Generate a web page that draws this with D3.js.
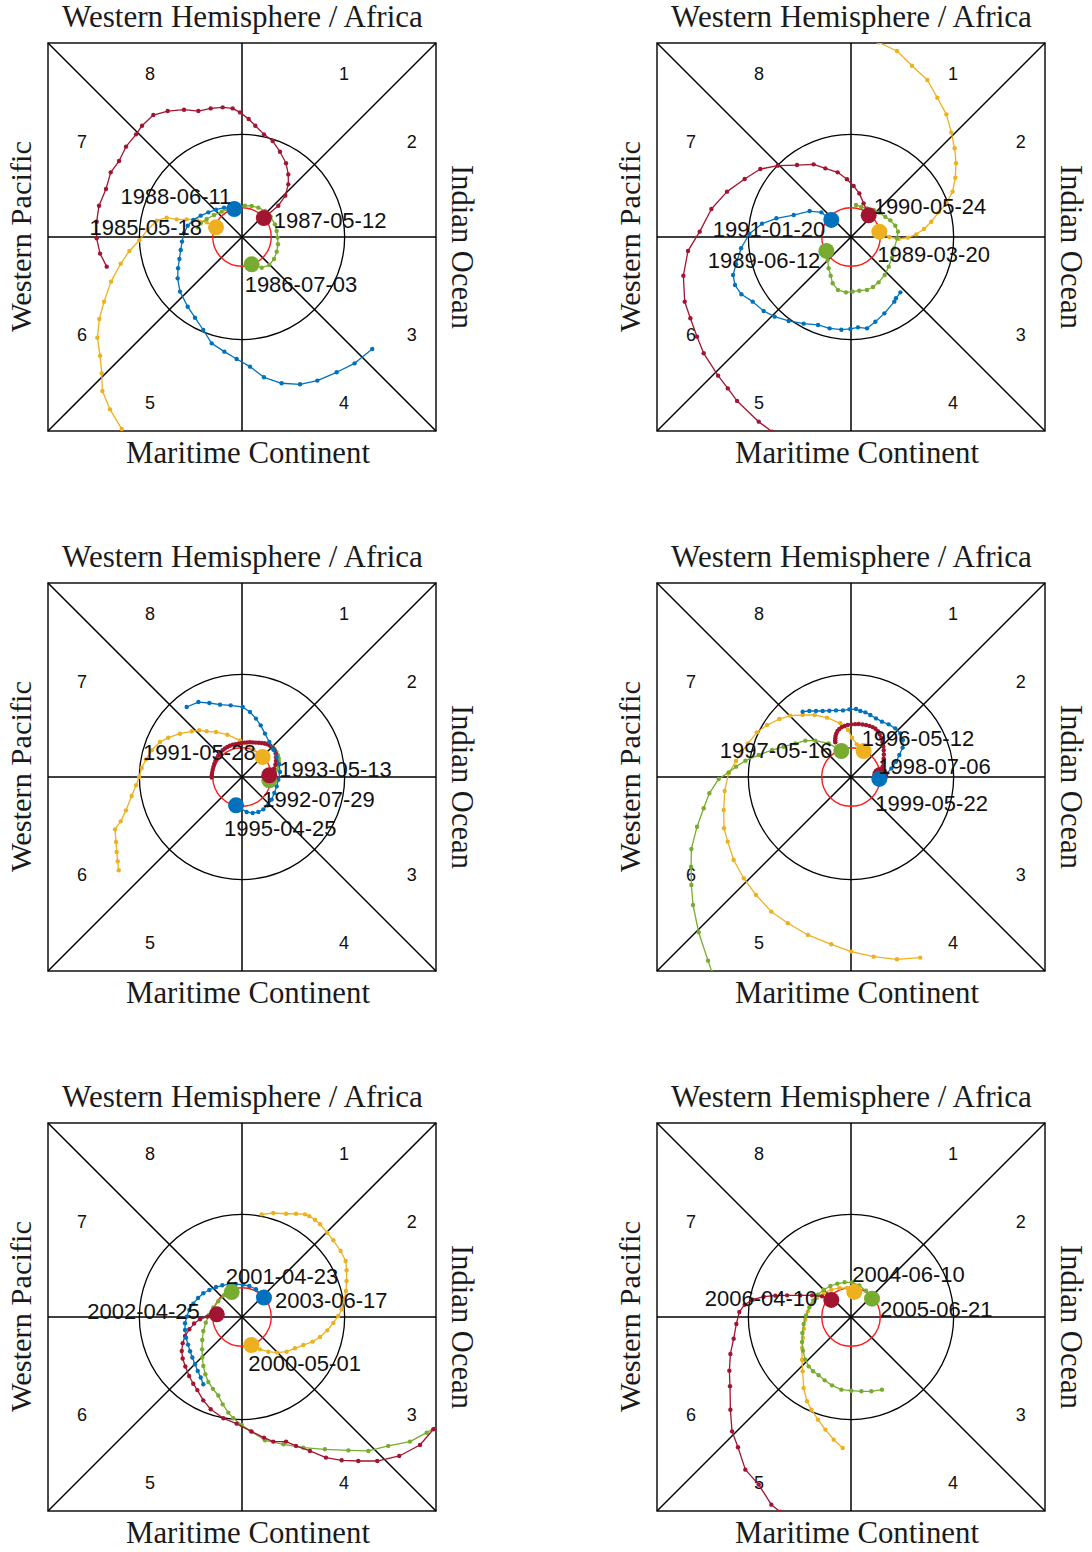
<!DOCTYPE html>
<html>
<head>
<meta charset="utf-8">
<script src="https://cdn.jsdelivr.net/npm/d3@7"></script>
<style>
  body { margin: 0; background: #fff; }
  svg { display: block; }
</style>
</head>
<body>
<svg id="chart" width="1092" height="1552"></svg>
<script>
// ---- MJO phase-space trajectories (RMM plane, rotated so WH/Africa is on top) ----

const regionNames = { top: "Western Hemisphere / Africa", bottom: "Maritime Continent",
                      left: "Western Pacific", right: "Indian Ocean" };
const phaseNumbers = ["1", "2", "3", "4", "5", "6", "7", "8"];
const seriesColors = ["#EDB120", "#77AC30", "#A2142F", "#0072BD"];

// Panel 1
const p1Dates = ["1985-05-18", "1986-07-03", "1987-05-12", "1988-06-11"];
const p1Yellow = [[-0.253,0.094],[-0.344,0.143],[-0.442,0.172],[-0.539,0.172],[-0.636,0.172],[-0.734,0.188],[-0.830,0.160],[-0.920,0.070],[-1.000,-0.032],[-1.097,-0.136],[-1.182,-0.260],[-1.276,-0.435],[-1.344,-0.630],[-1.390,-0.799],[-1.409,-0.981],[-1.383,-1.156],[-1.367,-1.328],[-1.360,-1.500],[-1.286,-1.679],[-1.172,-1.870]];
const p1Green = [[0.094,-0.266],[0.192,-0.299],[0.266,-0.273],[0.312,-0.214],[0.338,-0.143],[0.351,-0.071],[0.347,-0.006],[0.338,0.058],[0.321,0.123],[0.279,0.198],[0.224,0.253],[0.159,0.286],[0.094,0.302],[0.029,0.305],[-0.040,0.290],[-0.117,0.273],[-0.198,0.247],[-0.273,0.214],[-0.344,0.175],[-0.402,0.133],[-0.432,0.094]];
const p1Red = [[0.213,0.185],[0.354,0.305],[0.422,0.403],[0.451,0.513],[0.451,0.610],[0.429,0.718],[0.370,0.831],[0.299,0.935],[0.214,1.000],[0.130,1.084],[0.065,1.149],[-0.019,1.214],[-0.091,1.253],[-0.188,1.263],[-0.305,1.253],[-0.425,1.227],[-0.565,1.240],[-0.724,1.227],[-0.864,1.188],[-0.974,1.084],[-1.032,1.000],[-1.130,0.880],[-1.198,0.740],[-1.279,0.630],[-1.325,0.468],[-1.393,0.305],[-1.416,0.149],[-1.416,-0.013],[-1.383,-0.162],[-1.318,-0.289]];
const p1Blue = [[-0.075,0.273],[-0.175,0.286],[-0.253,0.266],[-0.328,0.240],[-0.402,0.208],[-0.474,0.166],[-0.529,0.110],[-0.565,0.036],[-0.584,-0.045],[-0.597,-0.127],[-0.610,-0.214],[-0.623,-0.305],[-0.627,-0.403],[-0.604,-0.532],[-0.529,-0.679],[-0.458,-0.786],[-0.377,-0.906],[-0.295,-1.036],[-0.172,-1.117],[-0.052,-1.188],[0.078,-1.263],[0.214,-1.367],[0.386,-1.425],[0.565,-1.435],[0.734,-1.399],[0.922,-1.318],[1.097,-1.231],[1.269,-1.091]];

// Panel 2
const p2Dates = ["1989-03-20", "1989-06-12", "1990-05-24", "1991-01-20"];
const p2Yellow = [[0.276,0.052],[0.373,0.000],[0.464,-0.019],[0.555,-0.006],[0.636,0.026],[0.711,0.078],[0.782,0.149],[0.854,0.240],[0.929,0.328],[0.990,0.442],[1.016,0.578],[1.023,0.718],[1.010,0.864],[0.977,1.019],[0.929,1.195],[0.841,1.357],[0.744,1.529],[0.594,1.669],[0.448,1.812],[0.269,1.896]];
const p2Green = [[-0.240,-0.136],[-0.227,-0.224],[-0.218,-0.305],[-0.198,-0.377],[-0.179,-0.451],[-0.127,-0.516],[-0.049,-0.539],[0.016,-0.532],[0.081,-0.523],[0.156,-0.516],[0.214,-0.487],[0.269,-0.442],[0.328,-0.370],[0.367,-0.289],[0.399,-0.201],[0.422,-0.110],[0.448,-0.013],[0.458,0.052],[0.432,0.110],[0.383,0.162],[0.334,0.198],[0.279,0.237],[0.221,0.263],[0.156,0.279],[0.101,0.292],[0.049,0.312]];
const p2Red = [[0.172,0.211],[0.123,0.328],[0.081,0.425],[0.026,0.497],[-0.039,0.562],[-0.130,0.630],[-0.250,0.669],[-0.364,0.708],[-0.526,0.701],[-0.714,0.695],[-0.883,0.662],[-1.036,0.565],[-1.208,0.442],[-1.360,0.273],[-1.474,0.052],[-1.588,-0.136],[-1.633,-0.377],[-1.620,-0.630],[-1.565,-0.792],[-1.500,-0.971],[-1.435,-1.133],[-1.295,-1.351],[-1.200,-1.475],[-1.110,-1.597],[-0.899,-1.799],[-0.769,-1.896]];
const p2Blue = [[-0.192,0.166],[-0.289,0.240],[-0.403,0.253],[-0.558,0.214],[-0.727,0.182],[-0.867,0.130],[-0.990,0.032],[-1.071,-0.110],[-1.120,-0.266],[-1.149,-0.370],[-1.130,-0.468],[-1.068,-0.558],[-0.958,-0.630],[-0.851,-0.721],[-0.744,-0.776],[-0.607,-0.818],[-0.461,-0.844],[-0.321,-0.857],[-0.208,-0.890],[-0.094,-0.903],[-0.006,-0.896],[0.068,-0.880],[0.156,-0.890],[0.237,-0.825],[0.325,-0.744],[0.422,-0.630],[0.438,-0.597],[0.481,-0.539]];

// Panel 3
const p3Dates = ["1991-05-28", "1992-07-29", "1993-05-13", "1995-04-25"];
const p3Yellow = [[0.201,0.195],[0.114,0.260],[-0.019,0.357],[-0.143,0.412],[-0.253,0.438],[-0.344,0.445],[-0.416,0.455],[-0.490,0.445],[-0.604,0.422],[-0.718,0.383],[-0.799,0.341],[-0.880,0.260],[-0.935,0.172],[-0.977,0.088],[-1.003,0.000],[-1.032,-0.081],[-1.075,-0.185],[-1.130,-0.325],[-1.182,-0.432],[-1.237,-0.510],[-1.227,-0.633],[-1.221,-0.731],[-1.211,-0.821],[-1.201,-0.909]];
const p3Green = [[0.266,-0.032],[0.300,-0.005],[0.321,0.030],[0.340,0.070],[0.352,0.110],[0.360,0.146],[0.358,0.180],[0.350,0.212],[0.335,0.245],[0.318,0.272],[0.296,0.295],[0.270,0.312],[0.245,0.322],[0.224,0.330]];
const p3Red = [[0.266,0.017],[0.295,0.048],[0.312,0.082],[0.325,0.120],[0.331,0.156],[0.331,0.192],[0.328,0.228],[0.316,0.260],[0.299,0.286],[0.274,0.305],[0.246,0.318],[0.220,0.326],[0.192,0.331],[0.164,0.333],[0.136,0.335],[0.107,0.337],[0.078,0.338],[0.050,0.337],[0.022,0.335],[-0.007,0.330],[-0.036,0.325],[-0.064,0.320],[-0.091,0.315],[-0.118,0.305],[-0.143,0.292],[-0.166,0.277],[-0.188,0.260],[-0.210,0.237],[-0.231,0.211],[-0.246,0.184],[-0.260,0.156],[-0.270,0.127],[-0.279,0.097],[-0.286,0.068],[-0.292,0.039],[-0.295,0.015],[-0.295,-0.006]];
const p3Blue = [[-0.058,-0.276],[0.045,-0.341],[0.104,-0.351],[0.159,-0.341],[0.208,-0.315],[0.250,-0.276],[0.289,-0.220],[0.315,-0.156],[0.338,-0.091],[0.354,-0.026],[0.370,0.049],[0.363,0.123],[0.338,0.195],[0.305,0.267],[0.266,0.341],[0.224,0.423],[0.182,0.503],[0.136,0.569],[0.078,0.633],[0.007,0.682],[-0.110,0.698],[-0.214,0.705],[-0.318,0.721],[-0.425,0.730],[-0.539,0.682]];

// Panel 4
const p4Dates = ["1996-05-12", "1997-05-16", "1998-07-06", "1999-05-22"];
const p4Yellow = [[0.123,0.253],[0.058,0.318],[0.010,0.383],[-0.029,0.458],[-0.104,0.523],[-0.234,0.578],[-0.354,0.604],[-0.471,0.604],[-0.591,0.597],[-0.698,0.565],[-0.818,0.506],[-0.916,0.435],[-1.003,0.328],[-1.068,0.240],[-1.120,0.156],[-1.192,0.036],[-1.231,-0.136],[-1.240,-0.321],[-1.237,-0.500],[-1.201,-0.630],[-1.143,-0.808],[-1.045,-0.987],[-0.925,-1.149],[-0.776,-1.312],[-0.614,-1.425],[-0.419,-1.539],[-0.192,-1.630],[0.003,-1.701],[0.221,-1.750],[0.448,-1.776],[0.675,-1.760]];
const p4Green = [[-0.094,0.253],[-0.218,0.328],[-0.347,0.354],[-0.445,0.354],[-0.542,0.328],[-0.656,0.295],[-0.769,0.263],[-0.899,0.214],[-1.029,0.159],[-1.120,0.101],[-1.192,0.045],[-1.289,-0.019],[-1.380,-0.159],[-1.435,-0.305],[-1.500,-0.484],[-1.555,-0.701],[-1.558,-0.873],[-1.555,-1.052],[-1.539,-1.247],[-1.484,-1.513],[-1.393,-1.789],[-1.354,-1.903]];
const p4Red = [[0.285,0.020],[0.298,0.060],[0.308,0.100],[0.315,0.140],[0.318,0.180],[0.320,0.220],[0.319,0.260],[0.315,0.300],[0.306,0.340],[0.295,0.380],[0.280,0.415],[0.262,0.445],[0.238,0.470],[0.211,0.486],[0.180,0.498],[0.146,0.506],[0.111,0.512],[0.075,0.516],[0.040,0.515],[0.003,0.513],[-0.032,0.506],[-0.062,0.497],[-0.090,0.484],[-0.114,0.468],[-0.132,0.448],[-0.143,0.425],[-0.150,0.400],[-0.153,0.377],[-0.154,0.355],[-0.153,0.338]];
const p4Blue = [[0.276,-0.019],[0.341,0.026],[0.393,0.084],[0.438,0.149],[0.471,0.214],[0.503,0.286],[0.506,0.360],[0.481,0.425],[0.432,0.474],[0.367,0.513],[0.302,0.539],[0.244,0.571],[0.188,0.604],[0.140,0.630],[0.091,0.643],[0.049,0.662],[-0.016,0.659],[-0.078,0.649],[-0.146,0.649],[-0.211,0.646],[-0.276,0.643],[-0.341,0.643],[-0.406,0.643],[-0.471,0.636]];

// Panel 5
const p5Dates = ["2000-05-01", "2001-04-23", "2002-04-25", "2003-06-17"];
const p5Yellow = [[0.091,-0.273],[0.175,-0.315],[0.256,-0.338],[0.344,-0.347],[0.435,-0.338],[0.516,-0.305],[0.597,-0.273],[0.688,-0.240],[0.760,-0.195],[0.831,-0.130],[0.890,-0.058],[0.938,0.010],[0.971,0.075],[0.994,0.162],[1.013,0.253],[1.019,0.351],[1.019,0.455],[1.010,0.545],[0.961,0.643],[0.890,0.747],[0.831,0.821],[0.760,0.903],[0.711,0.948],[0.656,0.981],[0.614,1.000],[0.526,1.006],[0.429,1.006],[0.305,1.013],[0.192,1.000]];
const p5Green = [[-0.100,0.243],[-0.175,0.211],[-0.231,0.153],[-0.279,0.092],[-0.321,0.019],[-0.353,-0.055],[-0.377,-0.136],[-0.387,-0.224],[-0.389,-0.315],[-0.387,-0.395],[-0.377,-0.477],[-0.357,-0.558],[-0.328,-0.633],[-0.283,-0.700],[-0.231,-0.765],[-0.188,-0.851],[-0.133,-0.932],[-0.084,-0.987],[-0.003,-1.052],[0.084,-1.110],[0.224,-1.201],[0.403,-1.240],[0.597,-1.273],[0.808,-1.289],[1.036,-1.299],[1.231,-1.305],[1.425,-1.256],[1.636,-1.214],[1.799,-1.127],[1.903,-1.062]];
const p5Red = [[-0.246,0.026],[-0.338,0.004],[-0.409,-0.022],[-0.467,-0.064],[-0.513,-0.120],[-0.555,-0.185],[-0.578,-0.256],[-0.587,-0.331],[-0.578,-0.405],[-0.552,-0.482],[-0.515,-0.575],[-0.475,-0.650],[-0.435,-0.712],[-0.377,-0.812],[-0.305,-0.899],[-0.182,-0.987],[-0.052,-1.039],[0.094,-1.117],[0.214,-1.175],[0.305,-1.214],[0.429,-1.214],[0.526,-1.256],[0.662,-1.305],[0.818,-1.370],[0.971,-1.396],[1.133,-1.403],[1.318,-1.403],[1.532,-1.354],[1.734,-1.247],[1.864,-1.094],[1.903,-1.052]];
const p5Blue = [[0.214,0.189],[0.136,0.270],[0.071,0.302],[0.007,0.315],[-0.061,0.321],[-0.127,0.318],[-0.192,0.309],[-0.253,0.292],[-0.318,0.263],[-0.377,0.231],[-0.428,0.185],[-0.474,0.130],[-0.513,0.068],[-0.538,0.004],[-0.555,-0.061],[-0.555,-0.127],[-0.545,-0.201],[-0.526,-0.269],[-0.506,-0.334],[-0.484,-0.395],[-0.458,-0.461],[-0.431,-0.526],[-0.402,-0.590],[-0.377,-0.655]];

// Panel 6 (three events)
const p6Dates = ["2004-06-10", "2005-06-21", "2006-04-10"];
const p6Yellow = [[0.032,0.244],[-0.039,0.282],[-0.114,0.282],[-0.192,0.266],[-0.266,0.234],[-0.331,0.185],[-0.380,0.127],[-0.419,0.055],[-0.445,-0.026],[-0.458,-0.114],[-0.468,-0.205],[-0.477,-0.302],[-0.477,-0.416],[-0.471,-0.529],[-0.461,-0.692],[-0.429,-0.821],[-0.386,-0.903],[-0.321,-1.000],[-0.250,-1.097],[-0.169,-1.195],[-0.081,-1.276]];
const p6Green = [[0.205,0.179],[0.146,0.256],[0.081,0.308],[0.010,0.338],[-0.062,0.338],[-0.133,0.325],[-0.201,0.302],[-0.266,0.266],[-0.321,0.218],[-0.367,0.162],[-0.406,0.094],[-0.438,0.016],[-0.461,-0.068],[-0.474,-0.156],[-0.477,-0.244],[-0.468,-0.328],[-0.445,-0.416],[-0.412,-0.481],[-0.370,-0.529],[-0.315,-0.568],[-0.256,-0.617],[-0.185,-0.666],[-0.094,-0.708],[0.003,-0.718],[0.101,-0.724],[0.198,-0.724],[0.302,-0.708]];
const p6Red = [[-0.192,0.166],[-0.282,0.201],[-0.380,0.211],[-0.494,0.211],[-0.623,0.211],[-0.737,0.208],[-0.851,0.198],[-0.958,0.169],[-1.036,0.120],[-1.088,0.049],[-1.117,-0.068],[-1.143,-0.211],[-1.175,-0.360],[-1.185,-0.523],[-1.179,-0.675],[-1.175,-0.903],[-1.159,-1.114],[-1.101,-1.269],[-1.029,-1.487],[-0.899,-1.633],[-0.776,-1.828],[-0.688,-1.899]];

// Date label placement next to each event's start dot: [anchor, dx px, dy px]
const p1LabelSpots = [["end",-14,0],["start",-7,20],["start",10,2],["end",-3,-13]];
const p2LabelSpots = [["start",-2,22],["end",-6,9],["start",5,-9],["end",-6,9]];
const p3LabelSpots = [["end",-7,-5],["start",-7,19],["start",10,-6],["start",-12,23]];
const p4LabelSpots = [["start",-2,-13],["end",-9,-1],["start",-2,-9],["start",-4,24]];
const p5LabelSpots = [["start",-3,18],["start",-6,-16],["end",-17,-3],["start",11,2]];
const p6LabelSpots = [["start",-2,-18],["start",8,10],["end",-14,-2]];

const panels = [
  { tracks: [p1Yellow, p1Green, p1Red, p1Blue], dates: p1Dates, spots: p1LabelSpots },
  { tracks: [p2Yellow, p2Green, p2Red, p2Blue], dates: p2Dates, spots: p2LabelSpots },
  { tracks: [p3Yellow, p3Green, p3Red, p3Blue], dates: p3Dates, spots: p3LabelSpots },
  { tracks: [p4Yellow, p4Green, p4Red, p4Blue], dates: p4Dates, spots: p4LabelSpots },
  { tracks: [p5Yellow, p5Green, p5Red, p5Blue], dates: p5Dates, spots: p5LabelSpots },
  { tracks: [p6Yellow, p6Green, p6Red], dates: p6Dates, spots: p6LabelSpots }
];

// ---- layout ----
const SIZE = 388;          // square plot side, px
const LIM = 1.89;          // half-range of the phase plane
const origins = [[48,43],[657,43],[48,583],[657,583],[48,1123],[657,1123]];
const SERIF = "'Liberation Serif', 'Times New Roman', serif";
const SANS = "'Liberation Sans', Arial, Helvetica, sans-serif";

const svg = d3.select("#chart");
const x = d3.scaleLinear().domain([-LIM, LIM]).range([0, SIZE]);
const y = d3.scaleLinear().domain([-LIM, LIM]).range([SIZE, 0]);
const line = d3.line().x(d => x(d[0])).y(d => y(d[1]));

// phase-number positions in plane units
const phaseSpots = [[0.993,1.597],[1.655,0.935],[1.655,-0.954],[0.993,-1.616],
                    [-0.896,-1.616],[-1.558,-0.954],[-1.558,0.935],[-0.896,1.597]];

// size a serif caption so it spans the wanted width
function fitSize(str, target) {
  const t = svg.append("text").attr("font-family", SERIF).attr("font-size", 100).text(str);
  const w = t.node().getComputedTextLength();
  t.remove();
  return 100 * target / w;
}
const sizeTop = fitSize(regionNames.top, 361);
const sizeBottom = fitSize(regionNames.bottom, 244);
const sizeLeft = fitSize(regionNames.left, 191);
const sizeRight = fitSize(regionNames.right, 164);

panels.forEach((panel, pi) => {
  const [ox, oy] = origins[pi];
  const g = svg.append("g").attr("transform", `translate(${ox},${oy})`);

  const clipId = "clip" + pi;
  g.append("clipPath").attr("id", clipId)
    .append("rect").attr("x", 0).attr("y", 0).attr("width", SIZE).attr("height", SIZE);

  // frame, diagonals, axes
  const grid = g.append("g").attr("stroke", "#000").attr("fill", "none");
  grid.append("rect").attr("x", 0).attr("y", 0).attr("width", SIZE).attr("height", SIZE)
    .attr("stroke-width", 1.4);
  [[[-LIM, LIM], [LIM, -LIM]], [[-LIM, -LIM], [LIM, LIM]],
   [[-LIM, 0], [LIM, 0]], [[0, -LIM], [0, LIM]]].forEach(seg => {
    grid.append("line")
      .attr("x1", x(seg[0][0])).attr("y1", y(seg[0][1]))
      .attr("x2", x(seg[1][0])).attr("y2", y(seg[1][1]))
      .attr("stroke-width", 1.5);
  });
  grid.append("circle").attr("cx", x(0)).attr("cy", y(0))
    .attr("r", x(1) - x(0)).attr("stroke-width", 1.3);
  g.append("circle").attr("cx", x(0)).attr("cy", y(0))
    .attr("r", x(0.285) - x(0)).attr("fill", "none")
    .attr("stroke", "#ff1a1a").attr("stroke-width", 1.4);

  // phase numbers
  g.append("g").selectAll("text").data(phaseNumbers).join("text")
    .attr("x", (d, i) => x(phaseSpots[i][0]))
    .attr("y", (d, i) => y(phaseSpots[i][1]) + 6.5)
    .attr("text-anchor", "middle")
    .attr("font-family", SANS).attr("font-size", 18).attr("fill", "#111")
    .text(d => d);

  // trajectories
  const tg = g.append("g").attr("clip-path", `url(#${clipId})`);
  panel.tracks.forEach((track, si) => {
    const col = seriesColors[si];
    tg.append("path").datum(track).attr("d", line)
      .attr("fill", "none").attr("stroke", col).attr("stroke-width", 1.3)
      .attr("stroke-linejoin", "round");
    tg.append("g").selectAll("circle").data(track).join("circle")
      .attr("cx", d => x(d[0])).attr("cy", d => y(d[1])).attr("r", 2.2)
      .attr("fill", col);
  });
  // start markers
  panel.tracks.forEach((track, si) => {
    tg.append("circle").attr("cx", x(track[0][0])).attr("cy", y(track[0][1]))
      .attr("r", 8).attr("fill", seriesColors[si]);
  });
  // date labels
  panel.tracks.forEach((track, si) => {
    const [anchor, dx, dy] = panel.spots[si];
    g.append("text")
      .attr("x", x(track[0][0]) + dx)
      .attr("y", y(track[0][1]) + dy + 8)
      .attr("text-anchor", anchor)
      .attr("font-family", SANS).attr("font-size", 22).attr("fill", "#111")
      .text(panel.dates[si]);
  });

  // region names around the square
  g.append("text").attr("x", 194.5).attr("y", -16).attr("text-anchor", "middle")
    .attr("font-family", SERIF).attr("font-size", sizeTop).attr("fill", "#1a1a1a")
    .text(regionNames.top);
  g.append("text").attr("x", 200).attr("y", 420).attr("text-anchor", "middle")
    .attr("font-family", SERIF).attr("font-size", sizeBottom).attr("fill", "#1a1a1a")
    .text(regionNames.bottom);
  g.append("text").attr("transform", "translate(-17,193.5) rotate(-90)")
    .attr("text-anchor", "middle")
    .attr("font-family", SERIF).attr("font-size", sizeLeft).attr("fill", "#1a1a1a")
    .text(regionNames.left);
  g.append("text").attr("transform", "translate(404,204) rotate(90)")
    .attr("text-anchor", "middle")
    .attr("font-family", SERIF).attr("font-size", sizeRight).attr("fill", "#1a1a1a")
    .text(regionNames.right);
});
</script>
</body>
</html>
